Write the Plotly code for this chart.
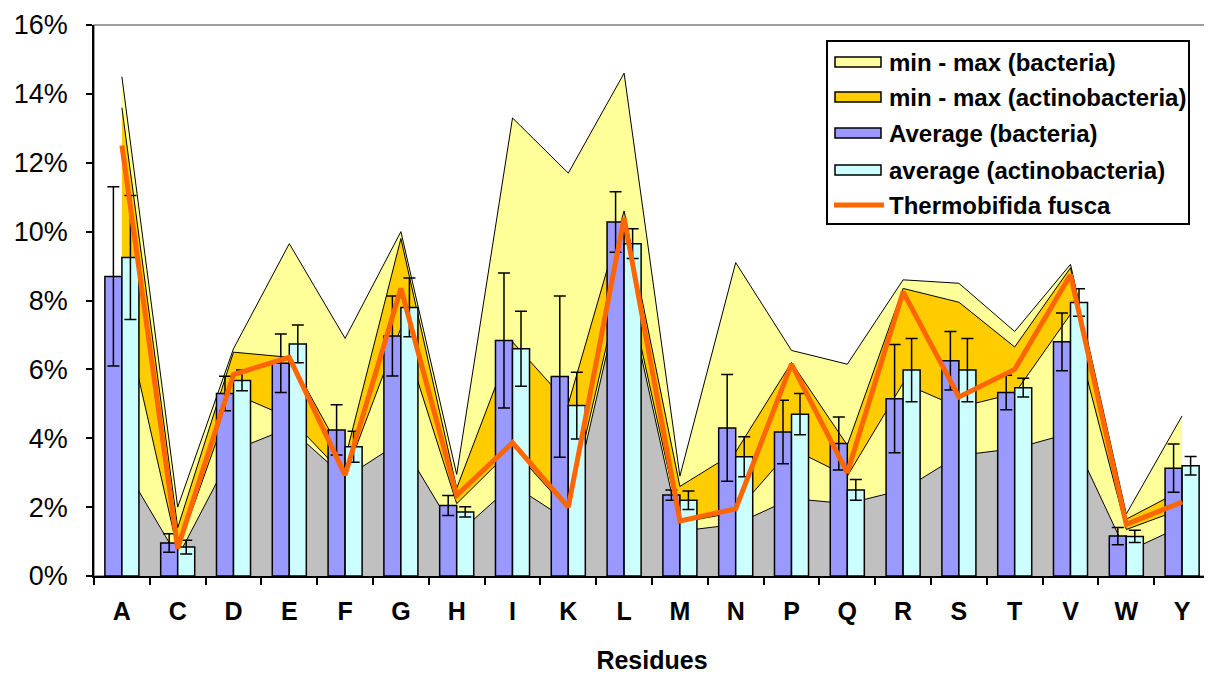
import plotly.graph_objects as go

residues = ["A", "C", "D", "E", "F", "G", "H", "I", "K", "L",
            "M", "N", "P", "Q", "R", "S", "T", "V", "W", "Y"]

max_bact = [14.5, 2.0, 6.6, 9.65, 6.9, 10.0, 2.95, 13.3, 11.7, 14.6,
            2.9, 9.1, 6.55, 6.15, 8.6, 8.5, 7.1, 9.05, 1.8, 4.65]
max_act = [13.6, 1.4, 6.5, 6.35, 3.4, 9.8, 2.55, 6.8, 5.0, 10.6,
           2.6, 3.6, 6.2, 3.8, 8.35, 7.95, 6.65, 8.95, 1.65, 2.5]
min_act = [7.9, 0.75, 5.3, 4.6, 2.9, 7.2, 2.1, 3.7, 1.9, 8.9,
           1.55, 1.85, 3.7, 2.9, 5.6, 4.9, 5.3, 7.6, 1.35, 1.95]
min_bact = [3.3, 0.55, 3.65, 4.3, 2.85, 3.9, 1.2, 2.65, 1.6, 8.65,
            1.3, 1.5, 2.25, 2.1, 2.5, 3.5, 3.7, 4.15, 0.7, 1.45]

avg_bact = [8.7, 0.96, 5.3, 6.18, 4.24, 6.97, 2.05, 6.84, 5.79, 10.28,
            2.35, 4.3, 4.18, 3.85, 5.15, 6.25, 5.33, 6.8, 1.16, 3.13]
err_bact = [2.6, 0.27, 0.5, 0.85, 0.73, 1.16, 0.29, 1.96, 2.34, 0.88,
            0.15, 1.55, 0.92, 0.77, 1.57, 0.85, 0.5, 0.84, 0.25, 0.7]
avg_act = [9.25, 0.84, 5.68, 6.74, 3.75, 7.8, 1.86, 6.6, 4.95, 9.65,
           2.2, 3.46, 4.7, 2.5, 5.98, 5.98, 5.47, 7.94, 1.15, 3.2]
err_act = [1.8, 0.2, 0.3, 0.55, 0.45, 0.85, 0.15, 1.09, 0.97, 0.43,
           0.27, 0.58, 0.6, 0.3, 0.92, 0.92, 0.27, 0.4, 0.18, 0.27]
t_fusca = [12.5, 0.8, 5.85, 6.35, 2.93, 8.35, 2.34, 3.87, 2.0, 10.4,
           1.6, 1.95, 6.15, 3.0, 8.25, 5.2, 6.0, 8.75, 1.5, 2.15]

legend_labels = ["min - max (bacteria)", "min - max (actinobacteria)",
                 "Average (bacteria)", "average (actinobacteria)",
                 "Thermobifida fusca"]

YELLOW = "#FFFF99"
ORANGE = "#FFCC00"
GREY = "#C0C0C0"
BLUE = "#9999FF"
CYAN = "#CCFFFF"
LINE = "#FF6600"

FONT = "Liberation Sans, Arial, sans-serif"

# page offset of the figure (default body margin) and target plot area in page pixels
OFF = 8
W, H = 1212 - OFF, 683 - OFF
L, R, T, B = 94, 1210, 25, 576


def px(x):
    return (x - L) / (R - L)


def py(y):
    return (B - y) / (B - T)


fig = go.Figure()

area_specs = [
    (max_bact, YELLOW, legend_labels[0]),
    (max_act, ORANGE, legend_labels[1]),
    (min_act, YELLOW, "min (actinobacteria)"),
    (min_bact, GREY, "min (bacteria)"),
]
for vals, col, name in area_specs:
    fig.add_trace(go.Scatter(
        x=residues, y=vals, mode="lines", fill="tozeroy", fillcolor=col,
        line=dict(color="black", width=1), name=name, showlegend=False,
        xaxis="x", yaxis="y"))

fig.add_trace(go.Bar(
    x=residues, y=avg_bact, name=legend_labels[2], showlegend=False,
    marker=dict(color=BLUE, line=dict(color="black", width=1.5)),
    error_y=dict(type="data", array=err_bact, color="black", thickness=1.5, width=6),
    xaxis="x2", yaxis="y2"))
fig.add_trace(go.Bar(
    x=residues, y=avg_act, name=legend_labels[3], showlegend=False,
    marker=dict(color=CYAN, line=dict(color="black", width=1.5)),
    error_y=dict(type="data", array=err_act, color="black", thickness=1.5, width=6),
    xaxis="x2", yaxis="y2"))
fig.add_trace(go.Scatter(
    x=residues, y=t_fusca, mode="lines", name=legend_labels[4], showlegend=False,
    line=dict(color=LINE, width=5), xaxis="x2", yaxis="y2"))

# manual legend (rectangular swatches like the original)
shapes = [
    dict(type="rect", xref="paper", yref="paper", x0=0, x1=1, y0=0, y1=1,
         line=dict(color="#808080", width=1.5), layer="below"),
    dict(type="rect", xref="paper", yref="paper",
         x0=px(827), x1=px(1189), y0=py(224), y1=py(41),
         line=dict(color="black", width=2), fillcolor="white", layer="above"),
]
annotations = []
rows = [62, 97, 133, 170, 205]
swatch = [YELLOW, ORANGE, BLUE, CYAN, None]
for yc, col, lab in zip(rows, swatch, legend_labels):
    if col is None:
        shapes.append(dict(type="line", xref="paper", yref="paper",
                           x0=px(834), x1=px(884), y0=py(yc), y1=py(yc),
                           line=dict(color=LINE, width=5), layer="above"))
    else:
        shapes.append(dict(type="rect", xref="paper", yref="paper",
                           x0=px(835), x1=px(881), y0=py(yc + 5), y1=py(yc - 5),
                           line=dict(color="black", width=1.5), fillcolor=col,
                           layer="above"))
    annotations.append(dict(xref="paper", yref="paper", x=px(887), y=py(yc),
                            xanchor="left", yanchor="middle", showarrow=False,
                            text=lab,
                            font=dict(family=FONT, size=24, color="black",
                                      weight="bold")))

fig.update_layout(
    width=W, height=H,
    margin=dict(l=L - OFF, r=W - (R - OFF), t=T - OFF, b=H - (B - OFF),
                autoexpand=False),
    paper_bgcolor="white", plot_bgcolor="white",
    barmode="group", bargap=0.39, bargroupgap=0,
    showlegend=False,
    font=dict(family=FONT, color="black"),
    xaxis=dict(
        type="category", categoryorder="array", categoryarray=residues,
        range=[-0.5, 19.5], showgrid=False, zeroline=False, automargin=False,
        showline=True, linecolor="black", linewidth=1.5,
        ticks="outside", tickson="boundaries", ticklen=7, tickcolor="black", tickwidth=1.5,
        tickfont=dict(family=FONT, size=25, color="black", weight="bold"),
        ticklabelstandoff=12,
        title=dict(text="Residues", font=dict(family=FONT, size=25, color="black", weight="bold"),
                   standoff=28)),
    yaxis=dict(
        range=[0, 16], dtick=2, ticksuffix="%", showgrid=False, zeroline=False,
        automargin=False,
        showline=True, linecolor="black", linewidth=1.5,
        ticks="outside", ticklen=6, tickcolor="black", tickwidth=1.5,
        ticklabelstandoff=13,
        tickfont=dict(family=FONT, size=27, color="black")),
    xaxis2=dict(
        type="category", categoryorder="array", categoryarray=residues,
        range=[-0.5, 19.5], overlaying="x", visible=False),
    yaxis2=dict(range=[0, 16], overlaying="y", visible=False),
    shapes=shapes,
    annotations=annotations,
)

fig.write_html("out.html")
